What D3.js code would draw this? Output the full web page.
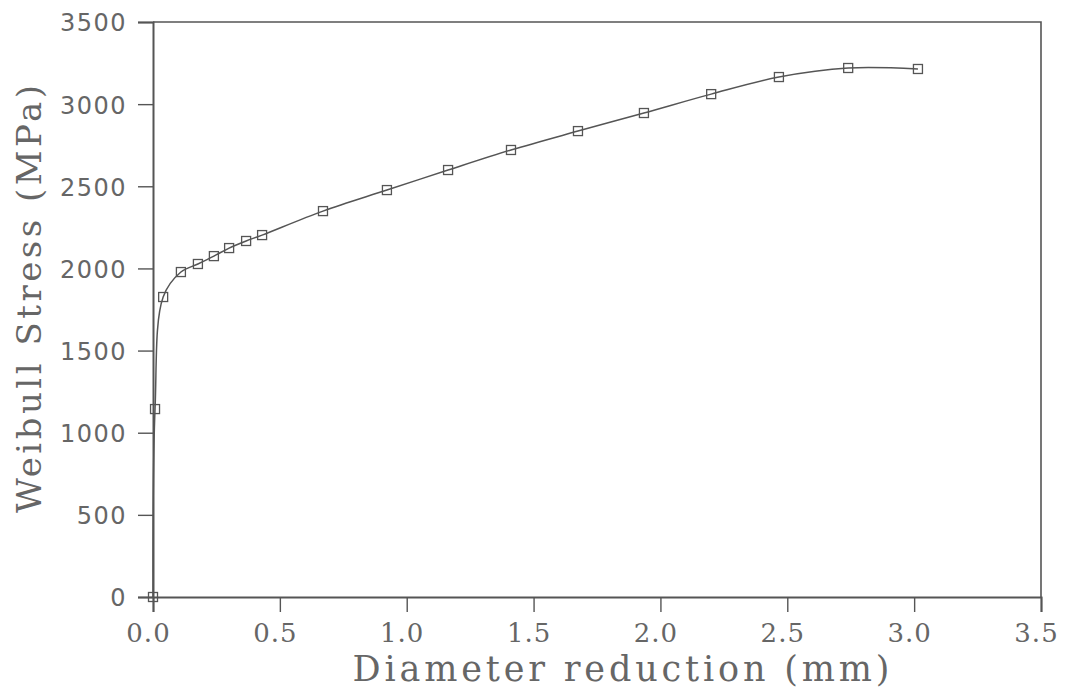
<!DOCTYPE html>
<html>
<head>
<meta charset="utf-8">
<script src="https://cdn.jsdelivr.net/npm/d3@7"></script>
<style>
  body { margin: 0; background: #fff; }
  svg { display: block; }
</style>
</head>
<body>
<div id="chart"></div>
<script>
// data
const reduction = [0, 0.008, 0.04, 0.11, 0.177, 0.24, 0.30, 0.367, 0.43, 0.67, 0.922, 1.163, 1.411, 1.675, 1.935, 2.20, 2.467, 2.74, 3.015]
const stress    = [0, 1144, 1826, 1978, 2027, 2075, 2124, 2167, 2203, 2349, 2477, 2599, 2721, 2836, 2946, 3061, 3165, 3220, 3214]

const X_TICKS = [0, 0.5, 1.0, 1.5, 2.0, 2.5, 3.0, 3.5]
const Y_TICKS = [0, 500, 1000, 1500, 2000, 2500, 3000, 3500]

const WIDTH = 1067
const HEIGHT = 691
const MARGIN = { top: 22, right: 26, bottom: 94, left: 153 }
const INK = '#555'
const TEXT = '#666'

let svg = d3.select('#chart')
  .append('svg')
    .attr('width', WIDTH)
    .attr('height', HEIGHT)

let x = d3.scaleLinear()
  .domain([0, 3.5])
  .range([MARGIN.left, WIDTH - MARGIN.right])

let y = d3.scaleLinear()
  .domain([0, 3500])
  .range([HEIGHT - MARGIN.bottom, MARGIN.top])

// frame: top and right borders
svg.append('path')
  .attr('d', 'M' + x(0) + ' ' + y(3500) + 'H' + x(3.5) + 'V' + y(0))
  .attr('fill', 'none')
  .attr('stroke', INK)
  .attr('stroke-width', 1.6)

// x axis
let xAxis = svg.append('g')
  .attr('transform', 'translate(0,' + y(0) + ')')

xAxis.call(d3.axisBottom(x).ticks(35).tickSize(8).tickFormat(''))
xAxis.call(d3.axisBottom(x).tickValues(X_TICKS).tickSize(15).tickFormat(d3.format('.1f')))
xAxis.selectAll('path.domain').attr('stroke', INK).attr('stroke-width', 2)
xAxis.selectAll('.tick line').attr('stroke', INK).attr('stroke-width', 1.4)
xAxis.selectAll('.tick text')
  .attr('fill', TEXT)
  .attr('y', 45)
  .attr('dy', 0)
  .attr('x', -5)
  .style('font-family', '"DejaVu Serif", serif')
  .style('font-size', '26px')
  .style('letter-spacing', '1px')

// y axis
let yAxis = svg.append('g')
  .attr('transform', 'translate(' + x(0) + ',0)')

yAxis.call(d3.axisLeft(y).ticks(35).tickSize(7).tickFormat(''))
yAxis.call(d3.axisLeft(y).tickValues(Y_TICKS).tickSize(15).tickFormat(d3.format('d')))
yAxis.selectAll('path.domain').attr('stroke', INK).attr('stroke-width', 2)
yAxis.selectAll('.tick line').attr('stroke', INK).attr('stroke-width', 1.4)
yAxis.selectAll('.tick text')
  .attr('fill', TEXT)
  .attr('x', -26)
  .attr('dy', '0.37em')
  .style('font-family', '"DejaVu Sans", sans-serif')
  .style('font-size', '24px')
  .style('letter-spacing', '1.5px')

// axis titles
svg.append('text')
  .attr('x', 621)
  .attr('y', 681)
  .attr('text-anchor', 'middle')
  .attr('textLength', 537)
  .attr('lengthAdjust', 'spacing')
  .attr('fill', TEXT)
  .style('font-family', '"DejaVu Serif", serif')
  .style('font-size', '35px')
  .text('Diameter reduction (mm)')

svg.append('text')
  .attr('transform', 'translate(41,299) rotate(-90)')
  .attr('text-anchor', 'middle')
  .attr('textLength', 428)
  .attr('lengthAdjust', 'spacing')
  .attr('fill', TEXT)
  .style('font-family', '"DejaVu Serif", serif')
  .style('font-size', '34px')
  .text('Weibull Stress (MPa)')

// curve and markers
let points = reduction.map((d, i) => [d, stress[i]])

let line = d3.line()
  .x((d) => x(d[0]))
  .y((d) => y(d[1]))
  .curve(d3.curveCatmullRom.alpha(0.5))

svg.append('path')
  .datum(points)
  .attr('d', line)
  .attr('fill', 'none')
  .attr('stroke', INK)
  .attr('stroke-width', 1.5)

svg.append('g')
  .selectAll('rect')
  .data(points)
  .enter().append('rect')
    .attr('x', (d) => x(d[0]) - 4.5)
    .attr('y', (d) => y(d[1]) - 4.5)
    .attr('width', 9)
    .attr('height', 9)
    .attr('fill', 'none')
    .attr('stroke', INK)
    .attr('stroke-width', 1.3)
</script>
</body>
</html>
